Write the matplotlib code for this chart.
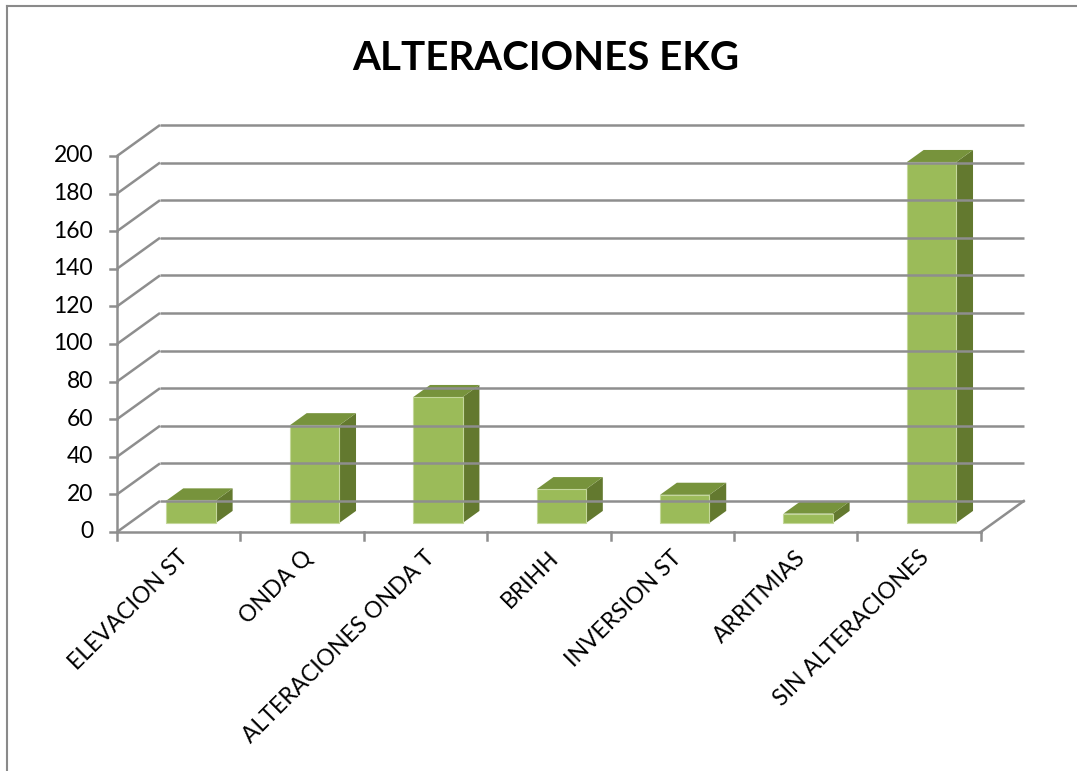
import matplotlib.pyplot as plt
from matplotlib.patches import Polygon
import numpy as np

# datos del grafico
categorias = ["ELEVACION ST", "ONDA Q", "ALTERACIONES ONDA T", "BRIHH",
              "INVERSION ST", "ARRITMIAS", "SIN ALTERACIONES"]
casos = [12, 52, 67, 18, 15, 5, 192]
marcas_y = list(range(0, 201, 20))

plt.rcParams['font.family'] = ['Lato', 'DejaVu Sans']

W, H = 1077, 771
fig = plt.figure(figsize=(W / 100, H / 100), dpi=100)
ax = fig.add_axes([0, 0, 1, 1])

# escala: 1 categoria = 123.4 px, 1 unidad = 1.88 px, origen en (117, 532)
px_cat = 123.4
px_val = 1.88
x0, y0 = 117, 532
ax.set_xlim(-x0 / px_cat, (W - x0) / px_cat)
ax.set_ylim((y0 - H) / px_val, y0 / px_val)
ax.axis('off')

# profundidad de la pared del fondo
dX = 43 / px_cat
dY = 31 / px_val
n = len(categorias)
gris = '#8e8e8e'
lw = 1.8

# lineas de division: pared izquierda y pared del fondo
for v in marcas_y:
    ax.plot([0, dX], [v, v + dY], color=gris, lw=lw, solid_capstyle='butt')
    ax.plot([dX, n + dX], [v + dY, v + dY], color=gris, lw=lw, solid_capstyle='butt')
    # marca del eje y
    ax.plot([-7 / px_cat, 0], [v, v], color=gris, lw=lw)
    ax.text(-24 / px_cat, v, str(v), ha='right', va='center', fontsize=16.5)

# eje vertical y borde del piso
ax.plot([0, 0], [0, 200], color=gris, lw=lw)
ax.plot([0, n], [0, 0], color=gris, lw=lw)
ax.plot([n, n + dX], [0, dY], color=gris, lw=lw)
for i in range(n + 1):
    ax.plot([i, i], [0, -8 / px_val], color=gris, lw=lw)

# barras 3d
z0, z1 = 0.29, 0.68
frente = '#9bbb59'
arriba = '#77933c'
lado = '#63792f'
for i, v in enumerate(casos):
    xa = i + 0.3 + z0 * dX
    xb = i + 0.7 + z0 * dX
    ya = z0 * dY
    yb = z0 * dY + v
    ox = (z1 - z0) * dX
    oy = (z1 - z0) * dY
    ax.add_patch(Polygon([(xb, ya), (xb + ox, ya + oy), (xb + ox, yb + oy), (xb, yb)],
                         closed=True, fc=lado, ec='none'))
    ax.add_patch(Polygon([(xa, yb), (xb, yb), (xb + ox, yb + oy), (xa + ox, yb + oy)],
                         closed=True, fc=arriba, ec='none'))
    ax.add_patch(Polygon([(xa, ya), (xb, ya), (xb, yb), (xa, yb)],
                         closed=True, fc=frente, ec='#c4d79b', lw=0.8))

# etiquetas de categoria
for i, c in enumerate(categorias):
    ax.text(i + 0.49, -8, c, rotation=45, ha='right', va='top',
            rotation_mode='anchor', fontsize=16.5)

# titulo
fig.text(546 / W, 1 - 58 / H, "ALTERACIONES EKG", ha='center', va='center',
         fontsize=29, fontweight='bold')

# borde del area del grafico
fig.add_artist(plt.Line2D([7 / W, 7 / W], [0, 1 - 6 / H], color='#8a8a8a', lw=1.5))
fig.add_artist(plt.Line2D([7 / W, 1], [1 - 6 / H, 1 - 6 / H], color='#8a8a8a', lw=1.5))

fig.savefig('out.png', dpi=100)
